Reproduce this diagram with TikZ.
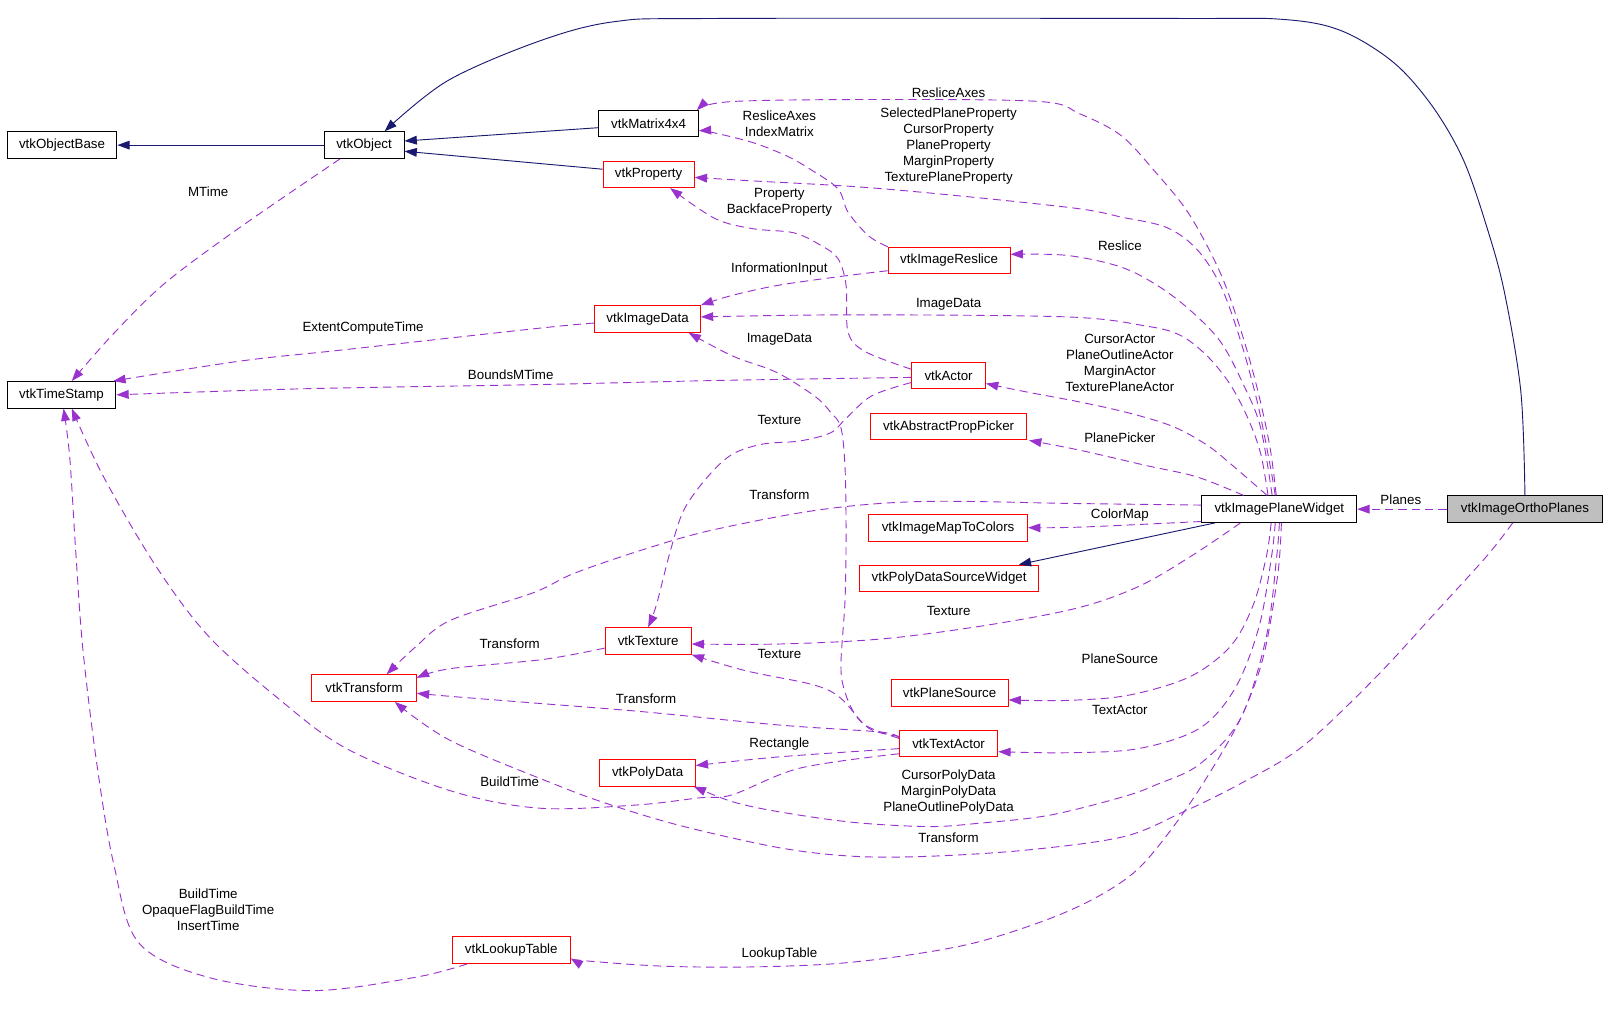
\documentclass[tikz,border=0pt]{standalone}
\usepackage{fontspec}
\setmainfont{Liberation Sans}
\usetikzlibrary{arrows.meta,calc}
\definecolor{inhcol}{HTML}{191970}
\definecolor{usecol}{HTML}{9A32CD}
\definecolor{gfill}{HTML}{BFBFBF}
\begin{document}
\begin{tikzpicture}[x=1pt,y=-1pt,
  every node/.style={font=\fontsize{13}{15.6}\selectfont, inner sep=0pt},
  cls/.style={draw=black, line width=0.9pt, minimum height=26pt, anchor=center},
  redcls/.style={cls, draw=red},
  inh/.style={draw=inhcol, line width=0.9pt, -{Triangle[length=12pt,width=8.5pt]}},
  use/.style={draw=usecol, line width=0.9pt, dash pattern=on 8pt off 5pt, -{Triangle[length=12pt,width=8.5pt]}},
  lbl/.style={align=center, text=black},
  sm/.style={smooth, tension=0.55}
]
\fill[white] (0,0) rectangle (1568,1002);
\useasboundingbox (0,0) rectangle (1568,1002);

% nodes
\node[cls, minimum width=107pt] (ob) at (60.5,141.5) {vtkObjectBase};
\node[cls, minimum width=78pt] (obj) at (355,141.5) {vtkObject};
\node[cls, minimum width=106pt] (ts) at (60,385) {vtkTimeStamp};
\node[cls, minimum width=97pt, minimum height=25pt] (mat) at (632.5,120.5) {vtkMatrix4x4};
\node[redcls, minimum width=89pt] (prop) at (632.5,170) {vtkProperty};
\node[redcls, minimum width=119pt] (resl) at (925.5,254) {vtkImageReslice};
\node[redcls, minimum width=103pt] (imd) at (631.5,311) {vtkImageData};
\node[redcls, minimum width=72pt] (act) at (925,366) {vtkActor};
\node[redcls, minimum width=152pt] (pick) at (925,416) {vtkAbstractPropPicker};
\node[redcls, minimum width=155pt] (map) at (924.5,514.5) {vtkImageMapToColors};
\node[redcls, minimum width=175pt] (pdsw) at (925.5,564) {vtkPolyDataSourceWidget};
\node[redcls, minimum width=84pt] (tex) at (632,625) {vtkTexture};
\node[redcls, minimum width=102pt] (trf) at (355,671) {vtkTransform};
\node[redcls, minimum width=114pt] (psrc) at (926,675.5) {vtkPlaneSource};
\node[redcls, minimum width=96pt] (tact) at (925,725) {vtkTextActor};
\node[redcls, minimum width=93pt] (pd) at (631.5,753.5) {vtkPolyData};
\node[redcls, minimum width=115pt] (lut) at (498.5,926.5) {vtkLookupTable};
\node[cls, minimum width=151pt] (ipw) at (1247.5,496.5) {vtkImagePlaneWidget};
\node[cls, minimum width=152pt, fill=gfill] (iop) at (1487,496.5) {vtkImageOrthoPlanes};

% inheritance
\draw[inh] (obj.west) -- (ob.east);
\draw[inh] ($(mat.west)+(0,4)$) -- ($(obj.east)+(0,-4)$);
\draw[inh] ($(prop.west)+(0,-5)$) -- ($(obj.east)+(0,6)$);
\draw[inh] plot[sm] coordinates {(iop.north) (1483,382) (1467,285) (1450,222) (1427,156) (1397,104) (1359,61) (1308,30) (1252,19) (1150,18) (700,18) (600,21) (526,40) (436,79) ($(obj.north)+(20,0)$)};
\draw[inh] ($(ipw.south west)+(13,0)$) -- ($(pdsw.north east)+(-20,0)$);

% usage
\draw[use] plot[sm] coordinates {($(obj.south west)+(16,0)$) (235,221) (161,276) (111,325) ($(ts.north)+(10,0)$)};
\draw[use] plot[sm] coordinates {($(imd.west)+(0,4)$) (526,320) (336,341) (235,352) ($(ts.north east)+(-3,0)$)};
\draw[use] plot[sm] coordinates {($(act.west)+(0,2)$) (700,371) (526,375) (300,379) (ts.east)};
\draw[use] plot[sm] coordinates {($(ipw.north)+(-3,0)$) (1238,434) (1225,375) (1209,319) (1189,264) (1159,208) (1126,167) (1093,132) (1053,111) (1014,99) (860,97) (714,99) ($(mat.north east)+(-2,0)$)};
\draw[use] plot[sm] coordinates {(resl.north west) (847,230) (827,207) (817,184) (790,165) (767,152) (734,139) (694,129) ($(mat.east)+(0,7)$)};
\draw[use] plot[sm] coordinates {($(ipw.north)+(-4,0)$) (1238,451) (1226,392) (1209,330) (1190,278) (1167,243) (1138,222) (1095,212) (1040,202) (860,184) (727,176) ($(prop.east)+(0,3)$)};
\draw[use] plot[sm] coordinates {($(act.west)+(0,-6)$) (844,343) (827,324) (825,278) (817,252) (800,239) (774,227) (734,223) (697,213) ($(prop.south)+(21,0)$)};
\draw[use] plot[sm] coordinates {($(ipw.north)+(-7,0)$) (1229,416) (1212,374) (1190,333) (1160,302) (1128,278) (1092,260) (1040,249) ($(resl.east)+(0,-6)$)};
\draw[use] plot[sm] coordinates {($(resl.west)+(0,10)$) (824,269) (760,278) (714,288) (imd.north east)};
\draw[use] plot[sm] coordinates {($(ipw.north)+(-11,0)$) (1229,441) (1216,406) (1199,374) (1177,347) (1151,327) (1118,318) (1040,309) (827,307) ($(imd.east)+(0,-2)$)};
\draw[use] plot[sm] coordinates {($(tact.west)+(0,-5)$) (847,709) (834,697) (824,675) (820,649) (824,585) (825,520) (824,456) (820,417) (810,402) (794,386) (757,363) (714,347) ($(imd.south east)+(-12,0)$)};
\draw[use] plot[sm] coordinates {($(act.west)+(0,7)$) (850,386) (825,408) (810,422) (780,430) (744,433) (714,443) (690,465) (667,497) (654,536) (640,590) (tex.north)};
\draw[use] plot[sm] coordinates {($(ipw.north)+(-12,0)$) (1202,454) (1177,434) (1144,416) (1102,403) (1053,392) (1000,382) ($(act.east)+(0,8)$)};
\draw[use] plot[sm] coordinates {($(ipw.north)+(-35,0)$) (1167,465) (1118,454) (1053,439) ($(pick.south east)+(2,0)$)};
\draw[use] plot[sm] coordinates {($(ipw.west)+(0,-4)$) (1050,491) (900,489) (800,497) (694,517) (627,536) (560,559) (520,578) (439,605) (405,631) ($(trf.north)+(22,0)$)};
\draw[use] plot[sm] coordinates {($(ipw.west)+(0,12)$) (1053,514) (map.east)};
\draw[use] plot[sm] coordinates {($(ipw.south west)+(38,0)$) (1162,542) (1110,572) (1050,593) (960,610) (860,623) (760,628) ($(tex.east)+(0,3)$)};
\draw[use] plot[sm] coordinates {($(tex.west)+(0,7)$) (530,643) (439,652) ($(trf.east)+(0,-10)$)};
\draw[use] plot[sm] coordinates {($(tact.west)+(0,-7)$) (847,710) (820,681) (794,668) (727,654) (tex.south east)};
\draw[use] plot[sm] coordinates {($(tact.west)+(0,-5)$) (860,714) (760,707) (627,694) (527,686) (439,679) ($(trf.east)+(0,5)$)};
\draw[use] plot[sm] coordinates {($(tact.west)+(0,5)$) (760,738) ($(pd.east)+(0,-7)$)};
\draw[use] plot[sm] coordinates {($(ipw.south)+(-8,0)$) (1235,542) (1222,590) (1200,630) (1160,660) (1100,678) (1040,683) ($(psrc.east)+(0,7)$)};
\draw[use] plot[sm] coordinates {($(ipw.south)+(-4,0)$) (1240,542) (1228,610) (1205,670) (1170,710) (1110,730) (1040,734) ($(tact.east)+(0,8)$)};
\draw[use] plot[sm] coordinates {(ipw.south) (1245,542) (1235,620) (1210,700) (1170,745) (1128,765) (1095,777) (1023,795) (952,803) (905,806) (833,802) (762,792) (715,782) ($(pd.south east)+(-2,0)$)};
\draw[use] plot[sm] coordinates {($(ipw.south)+(2,0)$) (1246,560) (1232,640) (1210,700) (1175,761) (1142,809) (1109,848) (1071,874) (1023,896) (952,919) (881,932) (810,940) (724,943) (644,942) (572,937) ($(lut.east)+(0,8)$)};
\draw[use] plot[sm] coordinates {($(iop.south)+(-12,0)$) (1450,542) (1400,597) (1340,662) (1270,728) (1208,765) (1151,793) (1095,816) (1000,829) (905,835) (833,835) (762,827) (667,806) (596,785) (539,764) (439,722) ($(trf.south)+(30,0)$)};
\draw[use] (iop.west) -- (ipw.east);
\draw[use] plot[sm] coordinates {($(tact.west)+(0,10)$) (780,749) (714,775) (682,778) (620,785) (525,788) (439,771) (338,730) (270,680) (203,620) (152,552) (101,465) ($(ts.south)+(10,0)$)};
\draw[use] plot[sm] coordinates {($(lut.south west)+(15,0)$) (405,953) (304,966) (203,953) (135,919) (111,843) (95,749) (81,635) (74,540) (68,446) ($(ts.south)+(2,0)$)};

% labels
\node[lbl] (l1) at (203,187) {MTime};
\node[lbl] (l2) at (354,320) {ExtentComputeTime};
\node[lbl] (l3) at (498,365) {BoundsMTime};
\node[lbl] (l4) at (925,90) {ResliceAxes};
\node[lbl] (l5) at (760,120.5) {ResliceAxes\\IndexMatrix};
\node[lbl] (l6) at (925,142.5) {SelectedPlaneProperty\\CursorProperty\\PlaneProperty\\MarginProperty\\TexturePlaneProperty};
\node[lbl] (l7) at (760,197.5) {Property\\BackfaceProperty};
\node[lbl] (l8) at (1092,240) {Reslice};
\node[lbl] (l9) at (760,262) {InformationInput};
\node[lbl] (l10) at (925,297) {ImageData};
\node[lbl] (l11) at (760,331) {ImageData};
\node[lbl] (l12) at (1092,354) {CursorActor\\PlaneOutlineActor\\MarginActor\\TexturePlaneActor};
\node[lbl] (l13) at (760,410) {Texture};
\node[lbl] (l14) at (1092,427) {PlanePicker};
\node[lbl] (l15) at (760,482) {Transform};
\node[lbl] (l16) at (1092,502) {ColorMap};
\node[lbl] (l17) at (1366,487) {Planes};
\node[lbl] (l18) at (925,596) {Texture};
\node[lbl] (l19) at (497,628) {Transform};
\node[lbl] (l20) at (760,638) {Texture};
\node[lbl] (l21) at (1092,642) {PlaneSource};
\node[lbl] (l22) at (630,681) {Transform};
\node[lbl] (l23) at (1092,692) {TextActor};
\node[lbl] (l24) at (760,726) {Rectangle};
\node[lbl] (l25) at (497,762) {BuildTime};
\node[lbl] (l26) at (925,772) {CursorPolyData\\MarginPolyData\\PlaneOutlinePolyData};
\node[lbl] (l27) at (925,817) {Transform};
\node[lbl] (l28) at (203,887) {BuildTime\\OpaqueFlagBuildTime\\InsertTime};
\node[lbl] (l29) at (760,930) {LookupTable};
\end{tikzpicture}
\end{document}
